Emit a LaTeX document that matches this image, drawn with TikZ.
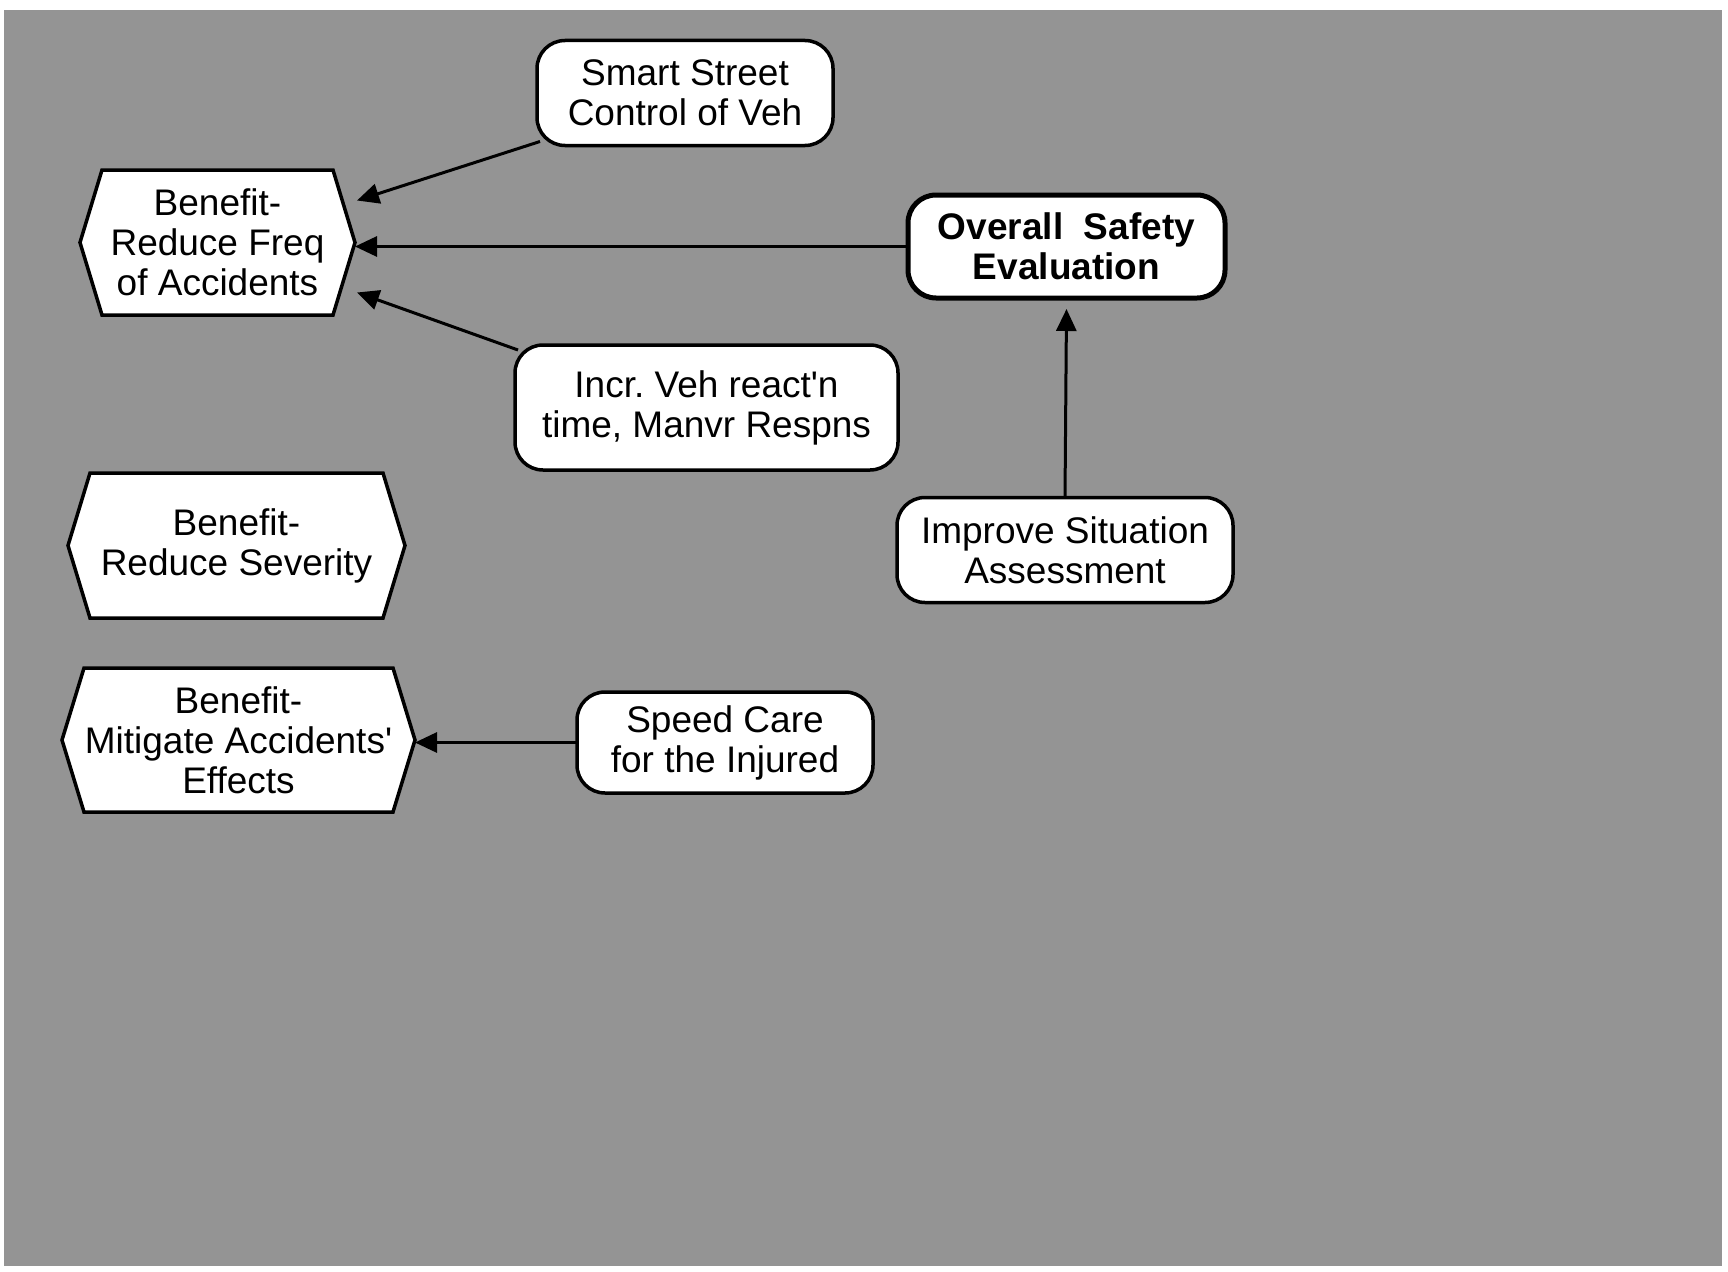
\documentclass[tikz,border=0pt]{standalone}
\usepackage{fontspec}
\setmainfont{Liberation Sans}
\usetikzlibrary{arrows.meta}
\pgfdeclarelayer{bg}
\pgfdeclarelayer{frames}
\pgfsetlayers{bg,frames,main}
\frenchspacing

% straight apostrophe, set as a glyph so no quote mapping applies
\newcommand\sq{\XeTeXglyph\XeTeXcharglyph"0027\relax}

% hexagonal frame drawn behind a named node, with pointed west/east ends
\newcommand\hexframe[1]{%
  \begin{pgfonlayer}{frames}
    \filldraw[hexline] (#1.west) -- ([xshift=22pt]#1.north west)
      -- ([xshift=-22pt]#1.north east) -- (#1.east)
      -- ([xshift=-22pt]#1.south east) -- ([xshift=22pt]#1.south west) -- cycle;
  \end{pgfonlayer}}

\begin{document}
\begin{tikzpicture}[x=1pt,y=-1pt,
  txt/.style={font=\fontsize{37}{40}\selectfont, align=center, inner sep=0pt, outer sep=0pt},
  hexnode/.style={txt, draw=none},
  hexline/.style={draw=black, fill=white, line width=3.5pt, line join=miter},
  roundbox/.style={txt, draw=black, fill=white, line width=3.5pt, rounded corners=28pt},
  keybox/.style={roundbox, line width=5pt, font=\fontsize{37}{40}\selectfont\bfseries},
  link/.style={draw=black, line width=3pt, -{Triangle[length=22pt,width=20pt]}}
]
\useasboundingbox (0,0) rectangle (1728,1271);
\begin{pgfonlayer}{bg}
  \fill[white] (0,0) rectangle (1728,1271);
  \fill[black!42] (4,10) rectangle (1722,1266);
\end{pgfonlayer}

% benefit hexagons
\node[hexnode, minimum width=275pt, minimum height=145pt] (h1) at (217.5,242.5)
  {Benefit-\\Reduce Freq\\of Accidents};
\hexframe{h1}
\node[hexnode, minimum width=337pt, minimum height=145pt] (h2) at (236.5,545.5)
  {Benefit-\\Reduce Severity};
\hexframe{h2}
\node[hexnode, minimum width=353pt, minimum height=144pt] (h3) at (238.5,740)
  {Benefit-\\Mitigate Accidents\sq\\Effects};
\hexframe{h3}

% measures
\node[roundbox, minimum width=296pt, minimum height=105pt] (smart) at (685,93)
  {Smart Street\\Control of Veh};
\node[keybox, minimum width=317pt, minimum height=103pt] (overall) at (1066.5,246.5)
  {Overall~~Safety\\Evaluation};
\node[roundbox, minimum width=383pt, minimum height=125pt] (incr) at (706.5,407.5)
  {Incr. Veh react\sq n\\time, Manvr Respns};
\node[roundbox, minimum width=336pt, minimum height=105pt] (improve) at (1065,550)
  {Improve Situation\\Assessment};
\node[roundbox, minimum width=296pt, minimum height=101pt] (speed) at (725,742.5)
  {Speed Care\\for the Injured};

% connectors
\draw[link] ([xshift=3pt,yshift=4pt]smart.south west) -- ([xshift=2pt,yshift=42pt]h1.east);
\draw[link] (overall.west) -- (overall.west -| h1.east);
\draw[link] ([xshift=3pt,yshift=-5pt]incr.north west) -- ([xshift=2pt,yshift=-50pt]h1.east);
\draw[link] (improve.north) -- ([yshift=-11pt]overall.south);
\draw[link] (speed.west) -- (speed.west -| h3.east);
\end{tikzpicture}
\end{document}
